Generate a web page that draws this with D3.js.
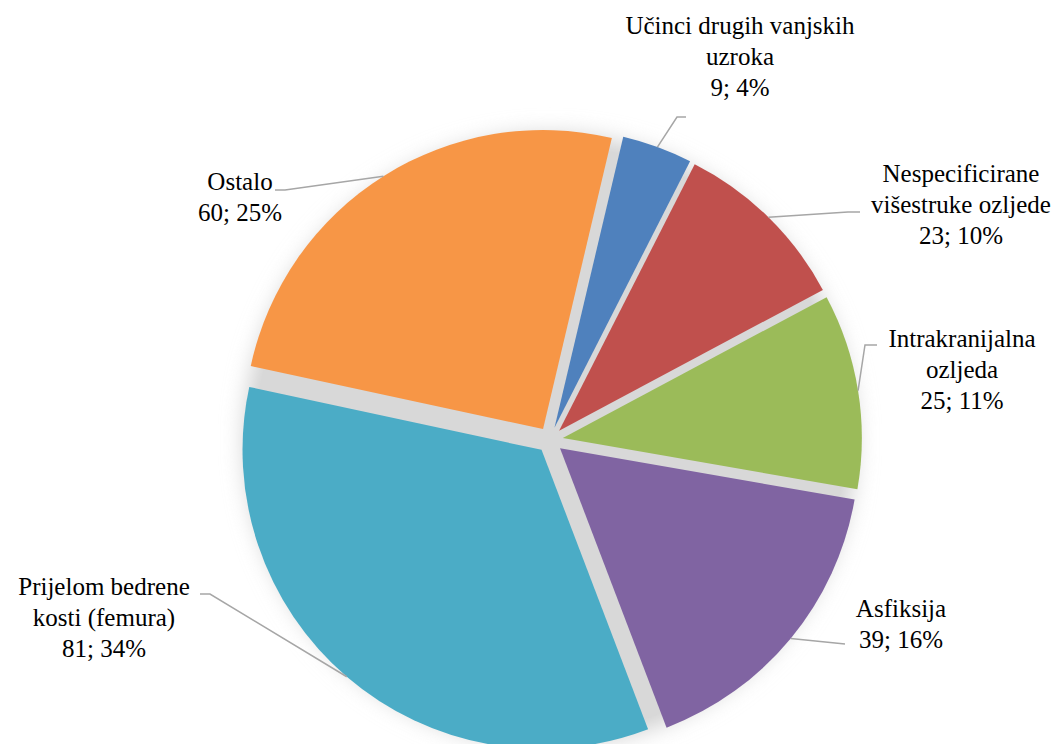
<!DOCTYPE html>
<html>
<head>
<meta charset="utf-8">
<script src="https://cdn.jsdelivr.net/npm/d3@7"></script>
</head>
<body style="margin:0">
<svg id="chart" width="1056" height="744" style="display:block"></svg>
<script>
// ---- data ----
const categories = [
  "Učinci drugih vanjskih uzroka",
  "Nespecificirane višestruke ozljede",
  "Intrakranijalna ozljeda",
  "Asfiksija",
  "Prijelom bedrene kosti (femura)",
  "Ostalo"
];
const values = [9, 23, 25, 39, 81, 60];
const labelLines = [
  ["Učinci drugih vanjskih", "uzroka"],
  ["Nespecificirane", "višestruke ozljede"],
  ["Intrakranijalna", "ozljeda"],
  ["Asfiksija"],
  ["Prijelom bedrene", "kosti (femura)"],
  ["Ostalo"]
];
const colors = ["#4f81bd", "#c0504d", "#9bbb59", "#8064a2", "#4bacc6", "#f79646"];

// ---- layout ----
const cx = 550, cy = 440, R = 299, explode = 13;
const startDeg = 13.3;
const fontSize = 25, lineH = 31;
// label layout: centre x, first baseline y, and label-side leader points
const labelLayout = [
  { x: 740, y: 34,  leader: [[686, 117], [677, 117]] },
  { x: 961, y: 182, leader: [[860, 212], [848, 212]] },
  { x: 962, y: 347, leader: [[877, 345], [865, 345]] },
  { x: 901, y: 617, leader: [[845, 644]] },
  { x: 104, y: 595, leader: [[200, 594], [210, 594]] },
  { x: 240, y: 190, leader: [[275, 190], [285, 190]] }
];

const svg = d3.select("#chart");
const defs = svg.append("defs");
defs.append("filter").attr("id", "shadow")
  .attr("x", "-20%").attr("y", "-20%").attr("width", "140%").attr("height", "140%")
  .append("feGaussianBlur").attr("stdDeviation", 11);

const total = d3.sum(values);
const a0 = startDeg * Math.PI / 180;
const pie = d3.pie().sort(null).value(d => d).startAngle(a0).endAngle(a0 + 2 * Math.PI);
const arcs = pie(values);
const arc = d3.arc().innerRadius(0).outerRadius(R);

// shadow / background disc
svg.append("circle")
  .attr("cx", cx).attr("cy", cy).attr("r", R + 7)
  .attr("fill", "#d2d2d2")
  .attr("filter", "url(#shadow)");
svg.append("circle")
  .attr("cx", cx).attr("cy", cy).attr("r", R - 4)
  .attr("fill", "#d8d8d8");

function offsetOf(d) {
  const mid = (d.startAngle + d.endAngle) / 2;
  return [explode * Math.sin(mid), -explode * Math.cos(mid)];
}

const g = svg.append("g").attr("transform", `translate(${cx},${cy})`);
g.selectAll("path.slice")
  .data(arcs)
  .join("path")
  .attr("class", "slice")
  .attr("d", arc)
  .attr("fill", (d, i) => colors[i])
  .attr("transform", d => { const o = offsetOf(d); return `translate(${o[0]},${o[1]})`; });

// leader lines
const lineGen = d3.line();
arcs.forEach((d, i) => {
  const mid = (d.startAngle + d.endAngle) / 2;
  const o = offsetOf(d);
  const edge = [cx + o[0] + R * Math.sin(mid), cy + o[1] - R * Math.cos(mid)];
  const pts = labelLayout[i].leader.concat([edge]);
  svg.append("path")
    .attr("d", lineGen(pts))
    .attr("fill", "none")
    .attr("stroke", "#a6a6a6")
    .attr("stroke-width", 1.5);
});

// labels: one text element per line
arcs.forEach((d, i) => {
  const pct = Math.round(values[i] / total * 100);
  const lines = labelLines[i].concat([`${values[i]}; ${pct}%`]);
  lines.forEach((ln, k) => {
    svg.append("text")
      .attr("x", labelLayout[i].x)
      .attr("y", labelLayout[i].y + k * lineH)
      .style("font-family", '"Liberation Serif", "Times New Roman", Times')
      .style("font-size", fontSize + "px")
      .style("text-anchor", "middle")
      .style("fill", "#000000")
      .text(ln);
  });
});
</script>
</body>
</html>
